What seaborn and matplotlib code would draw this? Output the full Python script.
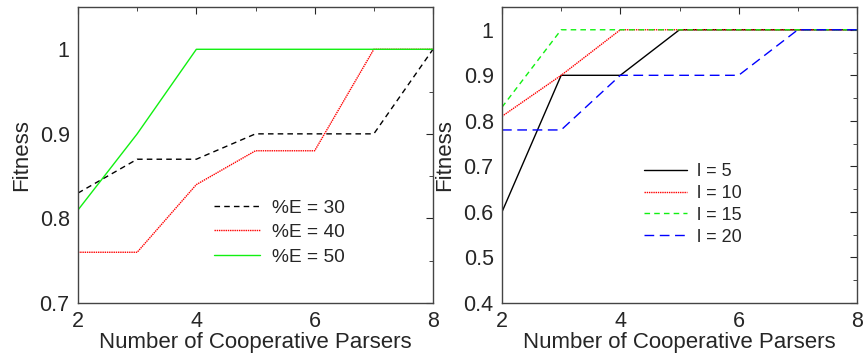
import numpy as np
import pandas as pd
import seaborn as sns
import matplotlib.pyplot as plt
from matplotlib.ticker import MultipleLocator

parsers = [2, 3, 4, 5, 6, 7, 8]

# panel izquierdo: %E
e30 = [0.83, 0.87, 0.87, 0.90, 0.90, 0.90, 1.00]
e40 = [0.76, 0.76, 0.84, 0.88, 0.88, 1.00, 1.00]
e50 = [0.81, 0.90, 1.00, 1.00, 1.00, 1.00, 1.00]

# panel derecho: l
l5 = [0.60, 0.90, 0.90, 1.00, 1.00, 1.00, 1.00]
l10 = [0.81, 0.90, 1.00, 1.00, 1.00, 1.00, 1.00]
l15 = [0.83, 1.00, 1.00, 1.00, 1.00, 1.00, 1.00]
l20 = [0.78, 0.78, 0.90, 0.90, 0.90, 1.00, 1.00]

sns.set_style("white")
plt.rcParams['font.family'] = ['Liberation Sans', 'DejaVu Sans']

fig = plt.figure(figsize=(8.63, 3.54), dpi=100)
ax1 = fig.add_axes([78/863, 51/354, 355/863, 296/354])
ax2 = fig.add_axes([502/863, 51/354, 355/863, 296/354])

verde = "#11f011"
left = [("%E = 30", e30, "black", (0, (4, 3))),
        ("%E = 40", e40, "red", (0, (1, 0.6))),
        ("%E = 50", e50, verde, "-")]
right = [("l = 5", l5, "black", "-"),
         ("l = 10", l10, "red", (0, (1, 0.6))),
         ("l = 15", l15, verde, (0, (4, 3))),
         ("l = 20", l20, "blue", (0, (7, 4)))]

for ax, series in ((ax1, left), (ax2, right)):
    for name, vals, col, ls in series:
        df = pd.DataFrame({"x": parsers, "y": vals})
        sns.lineplot(data=df, x="x", y="y", ax=ax, color=col, linestyle=ls,
                     linewidth=1.0, label=name)
    ax.set_xlim(2, 8)
    ax.xaxis.set_major_locator(MultipleLocator(2))
    ax.xaxis.set_minor_locator(MultipleLocator(1))
    ax.tick_params(which="both", direction="in", top=True, right=True,
                   labelsize=15.5, pad=6)
    ax.tick_params(which="major", length=5)
    ax.tick_params(which="minor", length=3)
    ax.set_xlabel("Number of Cooperative Parsers", fontsize=16, labelpad=0)
    ax.set_ylabel("Fitness", fontsize=16)
    for s in ax.spines.values():
        s.set_color("#444444")
        s.set_linewidth(1.0)

ax1.set_ylim(0.7, 1.05)
ax1.set_yticks([0.7, 0.8, 0.9, 1.0])
ax1.set_yticklabels(["0.7", "0.8", "0.9", "1"])
ax1.yaxis.set_minor_locator(MultipleLocator(0.05))

ax2.set_ylim(0.4, 1.05)
ax2.set_yticks([0.4, 0.5, 0.6, 0.7, 0.8, 0.9, 1.0])
ax2.set_yticklabels(["0.4", "0.5", "0.6", "0.7", "0.8", "0.9", "1"])
ax2.yaxis.set_minor_locator(MultipleLocator(0.05))

ax1.legend(loc="upper left", bbox_to_anchor=(0.383, 0.351), frameon=False,
           borderaxespad=0, borderpad=0, fontsize=13.8, handlelength=2.4,
           handletextpad=0.65, labelspacing=0.37)
ax2.legend(loc="upper left", bbox_to_anchor=(0.4, 0.473), frameon=False,
           borderaxespad=0, borderpad=0, fontsize=13, handlelength=2.4,
           handletextpad=0.55, labelspacing=0.27)

ax1.yaxis.set_label_coords(-0.13, 0.5)
ax2.yaxis.set_label_coords(-0.133, 0.5)

fig.savefig("out.png", dpi=100)
